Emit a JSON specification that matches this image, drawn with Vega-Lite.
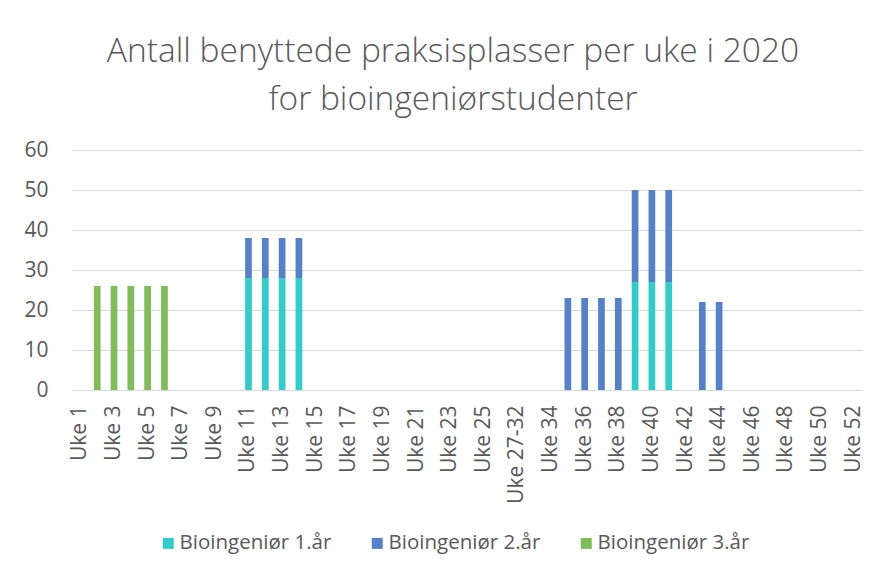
{
  "$schema": "https://vega.github.io/schema/vega-lite/v6.json",
  "width": 790,
  "height": 240,
  "autosize": "none",
  "padding": {"left": 72, "top": 150, "right": 23, "bottom": 189},
  "background": "white",
  "config": {
    "font": "Open Sans",
    "view": {"stroke": null},
    "axis": {"labelColor": "#595959", "labelFontSize": 21, "gridColor": "#D9D9D9", "domainColor": "#D9D9D9", "ticks": false}
  },
  "title": {
    "text": ["Antall benyttede praksisplasser per uke i 2020", "for bioingeniørstudenter"],
    "fontSize": 33.5,
    "fontWeight": 300,
    "color": "#595959",
    "lineHeight": 48,
    "anchor": "middle",
    "frame": "group",
    "dx": -14,
    "offset": 22
  },
  "data": {
    "values": [
      {"uke": "Uke 2", "gruppe": "Bioingeniør 3.år", "antall": 26},
      {"uke": "Uke 3", "gruppe": "Bioingeniør 3.år", "antall": 26},
      {"uke": "Uke 4", "gruppe": "Bioingeniør 3.år", "antall": 26},
      {"uke": "Uke 5", "gruppe": "Bioingeniør 3.år", "antall": 26},
      {"uke": "Uke 6", "gruppe": "Bioingeniør 3.år", "antall": 26},
      {"uke": "Uke 11", "gruppe": "Bioingeniør 1.år", "antall": 28},
      {"uke": "Uke 12", "gruppe": "Bioingeniør 1.år", "antall": 28},
      {"uke": "Uke 13", "gruppe": "Bioingeniør 1.år", "antall": 28},
      {"uke": "Uke 14", "gruppe": "Bioingeniør 1.år", "antall": 28},
      {"uke": "Uke 11", "gruppe": "Bioingeniør 2.år", "antall": 10},
      {"uke": "Uke 12", "gruppe": "Bioingeniør 2.år", "antall": 10},
      {"uke": "Uke 13", "gruppe": "Bioingeniør 2.år", "antall": 10},
      {"uke": "Uke 14", "gruppe": "Bioingeniør 2.år", "antall": 10},
      {"uke": "Uke 35", "gruppe": "Bioingeniør 2.år", "antall": 23},
      {"uke": "Uke 36", "gruppe": "Bioingeniør 2.år", "antall": 23},
      {"uke": "Uke 37", "gruppe": "Bioingeniør 2.år", "antall": 23},
      {"uke": "Uke 38", "gruppe": "Bioingeniør 2.år", "antall": 23},
      {"uke": "Uke 39", "gruppe": "Bioingeniør 1.år", "antall": 27},
      {"uke": "Uke 40", "gruppe": "Bioingeniør 1.år", "antall": 27},
      {"uke": "Uke 41", "gruppe": "Bioingeniør 1.år", "antall": 27},
      {"uke": "Uke 39", "gruppe": "Bioingeniør 2.år", "antall": 23},
      {"uke": "Uke 40", "gruppe": "Bioingeniør 2.år", "antall": 23},
      {"uke": "Uke 41", "gruppe": "Bioingeniør 2.år", "antall": 23},
      {"uke": "Uke 43", "gruppe": "Bioingeniør 2.år", "antall": 22},
      {"uke": "Uke 44", "gruppe": "Bioingeniør 2.år", "antall": 22}
    ]
  },
  "mark": {"type": "bar"},
  "encoding": {
    "x": {
      "field": "uke",
      "type": "nominal",
      "scale": {
        "domain": ["Uke 1","Uke 2","Uke 3","Uke 4","Uke 5","Uke 6","Uke 7","Uke 8","Uke 9","Uke 10","Uke 11","Uke 12","Uke 13","Uke 14","Uke 15","Uke 16","Uke 17","Uke 18","Uke 19","Uke 20","Uke 21","Uke 22","Uke 23","Uke 24","Uke 25","Uke 26","Uke 27-32","Uke 33","Uke 34","Uke 35","Uke 36","Uke 37","Uke 38","Uke 39","Uke 40","Uke 41","Uke 42","Uke 43","Uke 44","Uke 45","Uke 46","Uke 47","Uke 48","Uke 49","Uke 50","Uke 51","Uke 52"],
        "paddingInner": 0.6,
        "paddingOuter": 0.3
      },
      "axis": {
        "title": null,
        "values": ["Uke 1","Uke 3","Uke 5","Uke 7","Uke 9","Uke 11","Uke 13","Uke 15","Uke 17","Uke 19","Uke 21","Uke 23","Uke 25","Uke 27-32","Uke 34","Uke 36","Uke 38","Uke 40","Uke 42","Uke 44","Uke 46","Uke 48","Uke 50","Uke 52"],
        "labelAngle": -90,
        "labelAlign": "right",
        "labelBaseline": "middle",
        "labelPadding": 15,
        "domain": true,
        "grid": false
      }
    },
    "y": {
      "field": "antall",
      "type": "quantitative",
      "stack": "zero",
      "scale": {"domain": [0, 60]},
      "axis": {
        "title": null,
        "values": [0, 10, 20, 30, 40, 50, 60],
        "domain": false,
        "grid": true,
        "labelPadding": 24
      }
    },
    "order": {"field": "gruppe", "sort": "ascending"},
    "color": {
      "field": "gruppe",
      "type": "nominal",
      "scale": {
        "domain": ["Bioingeniør 1.år", "Bioingeniør 2.år", "Bioingeniør 3.år"],
        "range": ["#33CCCC", "#5580CA", "#80BC5A"]
      },
      "legend": {
        "title": null,
        "orient": "none",
        "direction": "horizontal",
        "legendX": 86,
        "legendY": 383,
        "symbolType": "square",
        "symbolSize": 121,
        "symbolStrokeWidth": 0,
        "labelFontSize": 20.5,
        "labelColor": "#595959",
        "columnPadding": 35,
        "labelOffset": 1
      }
    }
  }
}
